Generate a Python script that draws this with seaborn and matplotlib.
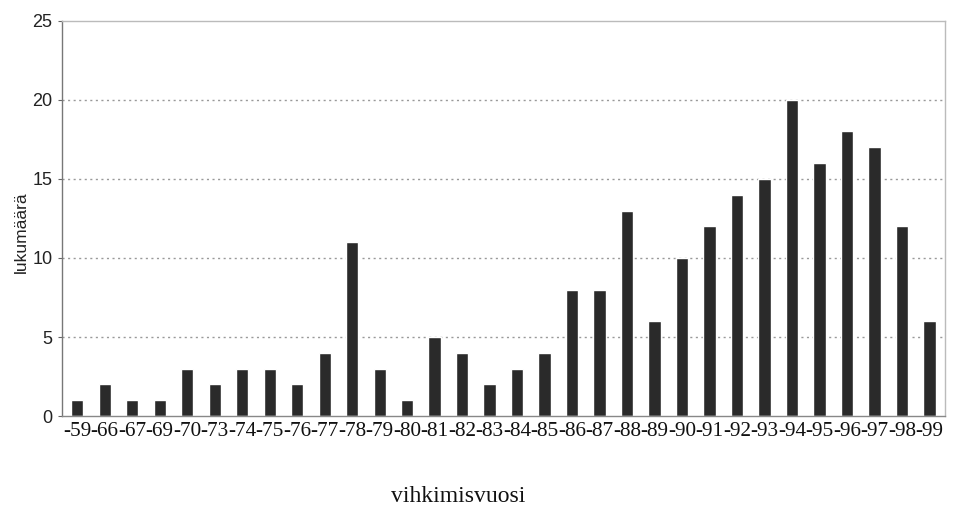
import matplotlib
matplotlib.use("Agg")
import matplotlib.pyplot as plt
import seaborn as sns
import pandas as pd

years = ["-59", "-66", "-67", "-69", "-70", "-73", "-74", "-75", "-76", "-77", "-78",
         "-79", "-80", "-81", "-82", "-83", "-84", "-85", "-86", "-87", "-88", "-89",
         "-90", "-91", "-92", "-93", "-94", "-95", "-96", "-97", "-98", "-99"]
counts = [1, 2, 1, 1, 3, 2, 3, 3, 2, 4, 11, 3, 1, 5, 4, 2, 3, 4, 8, 8, 13, 6,
          10, 12, 14, 15, 20, 16, 18, 17, 12, 6]
y_ticks = [0, 5, 10, 15, 20, 25]

df = pd.DataFrame({"year": years, "count": counts})

sns.set_theme(style="white")
plt.rcParams["font.family"] = ["Liberation Sans", "DejaVu Sans"]

fig = plt.figure(figsize=(9.58, 5.08), dpi=100)
ax = fig.add_axes([0.0647, 0.181, 0.9213, 0.778])

sns.barplot(data=df, x="year", y="count", color="#2a2a2a", width=0.44,
            saturation=1, ax=ax, order=years)

ax.set_ylim(0, 25)
ax.set_xlim(-0.55, len(years) - 0.45)
ax.set_yticks(y_ticks)
ax.set_yticklabels([str(t) for t in y_ticks], fontsize=13, color="#222222")
ax.set_xticks(range(len(years)))
ax.set_xticklabels(years, fontsize=15.3, family=["Liberation Serif", "DejaVu Serif"],
                   color="#111111")
ax.tick_params(axis="x", length=0, pad=4)
ax.tick_params(axis="y", length=3, width=0.8, color="#666666", pad=4, left=True)

for v in [5, 10, 15, 20]:
    ax.axhline(v, color="#999999", linestyle=(0, (1.5, 2.5)), linewidth=1, zorder=0)

ax.spines["left"].set_color("#777777")
ax.spines["bottom"].set_color("#888888")
ax.spines["top"].set_color("#bbbbbb")
ax.spines["right"].set_color("#bbbbbb")
for s in ax.spines.values():
    s.set_linewidth(1)

ax.set_xlabel("")
ax.set_ylabel("lukumäärä", fontsize=12.5, color="#222222")
ax.yaxis.set_label_coords(-0.038, 0.466)

fig.text(458 / 958, 1 - 496 / 508, "vihkimisvuosi", ha="center", va="center",
         fontsize=17, family=["Liberation Serif", "DejaVu Serif"], color="#111111")

fig.savefig("out.png", dpi=100, facecolor="white")
